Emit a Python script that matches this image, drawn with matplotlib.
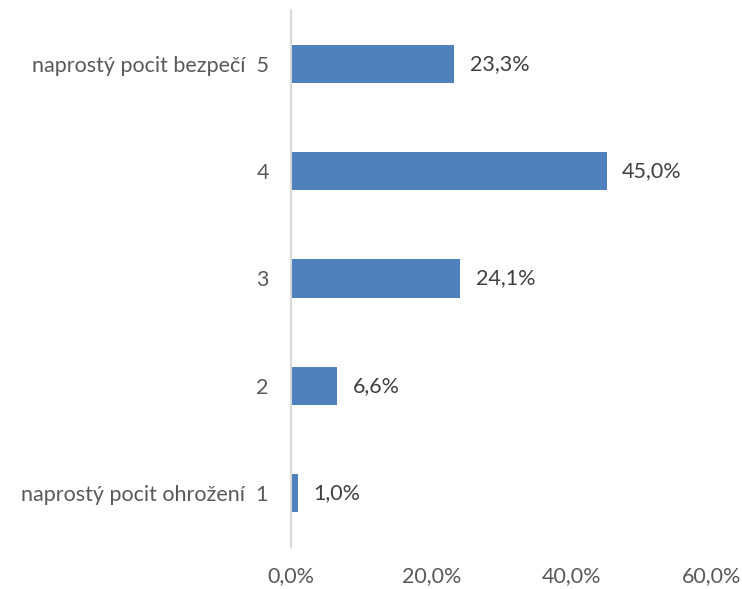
import matplotlib
matplotlib.use("Agg")
import matplotlib.pyplot as plt

categories = ["naprostý pocit ohrožení  1", "2", "3", "4", "naprostý pocit bezpečí  5"]
values = [1.0, 6.6, 24.1, 45.0, 23.3]
xticks = [0, 20, 40, 60]
xtick_labels = ["0,0%", "20,0%", "40,0%", "60,0%"]

plt.rcParams['font.family'] = ['Lato', 'DejaVu Sans']

fig = plt.figure(figsize=(7.42, 5.89), dpi=100)
ax = fig.add_axes([291/742, 1 - 547/589, (712 - 291)/742, (547 - 10)/589])

pos = list(range(len(values)))
ax.barh(pos, values, height=0.355, color='#4F81BD')
for p, v in zip(pos, values):
    ax.text(v + 2.2, p, f"{v:.1f}".replace('.', ',') + '%', va='center', ha='left',
            fontsize=15.5, color='#404040')

ax.set_xlim(0, 60)
ax.set_ylim(-0.5, 4.5)
ax.set_yticks(pos)
ax.set_yticklabels(categories, fontsize=15.5, color='#595959')
ax.set_xticks(xticks)
ax.set_xticklabels(xtick_labels, fontsize=15.5, color='#595959')
ax.tick_params(axis='both', length=0)
ax.tick_params(axis='y', pad=16)
ax.tick_params(axis='x', pad=14)
for s in ['top', 'right', 'bottom']:
    ax.spines[s].set_visible(False)
ax.spines['left'].set_color('#D9D9D9')
ax.spines['left'].set_linewidth(1.5)

fig.savefig('out.png', dpi=100)
